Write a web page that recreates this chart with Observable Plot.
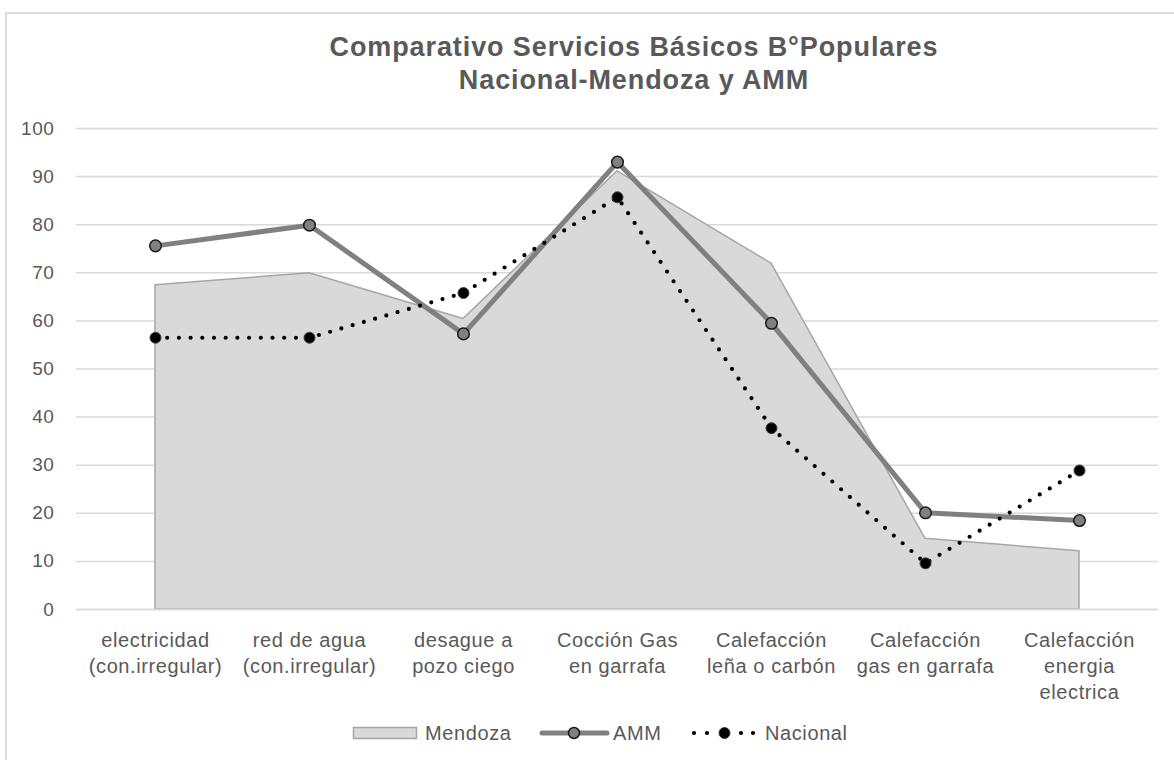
<!DOCTYPE html>
<html>
<head>
<meta charset="utf-8">
<script src="https://cdn.jsdelivr.net/npm/d3@7"></script>
<script src="https://cdn.jsdelivr.net/npm/@observablehq/plot@0.6"></script>
<style>
  html, body { margin: 0; padding: 0; background: #fff; }
  #wrap { position: relative; width: 1174px; height: 760px; overflow: hidden; font-family: "Liberation Sans", Arial, sans-serif; }
  #frame { position: absolute; left: 5px; top: 12px; width: 1300px; height: 900px; border: 2px solid #d9d9d9; box-sizing: border-box; }
  #title { position: relative; height: 100px; box-sizing: border-box; padding-top: 31px; padding-left: 94px; text-align: center;
           font-size: 27px; line-height: 33px; font-weight: bold; color: #595959; letter-spacing: 0.9px; }
  #chart svg { display: block; }
  #legend { position: relative; display: block; }
</style>
</head>
<body>
<div id="wrap">
  <div id="frame"></div>
  <div id="title">Comparativo Servicios Básicos B°Populares<br>Nacional-Mendoza y AMM</div>
  <div id="chart"></div>
  <svg id="legend" width="1174" height="60" font-family="Liberation Sans, Arial, sans-serif" font-size="20" fill="#595959" letter-spacing="0.6">
    <rect x="353.5" y="27.5" width="63" height="11" fill="#d9d9d9" stroke="#a6a6a6" stroke-width="1.5"></rect>
    <text x="425" y="40">Mendoza</text>
    <line x1="542" x2="607" y1="33" y2="33" stroke="#808080" stroke-width="5" stroke-linecap="round"></line>
    <circle cx="574" cy="33" r="5.5" fill="#808080" stroke="#1a1a1a" stroke-width="1.5"></circle>
    <text x="613" y="40">AMM</text>
    <line x1="694" x2="760" y1="33" y2="33" stroke="#000" stroke-width="4.2" stroke-dasharray="0 13 0 34 0 12 0 100" stroke-linecap="round"></line>
    <circle cx="724.5" cy="33" r="5.5" fill="#000" stroke="#404040" stroke-width="1"></circle>
    <text x="765" y="40">Nacional</text>
  </svg>
</div>
<script>
const categories = [
  "electricidad\n(con.irregular)",
  "red de agua\n(con.irregular)",
  "desague a\npozo ciego",
  "Cocción Gas\nen garrafa",
  "Calefacción\nleña o carbón",
  "Calefacción\ngas en garrafa",
  "Calefacción\nenergia\nelectrica"
];
const mendoza  = [67.4, 69.9, 60.4, 91.1, 71.9, 14.7, 12.1];
const amm      = [75.6, 79.9, 57.3, 93.0, 59.5, 20.1, 18.5];
const nacional = [56.5, 56.5, 65.8, 85.7, 37.7, 9.6, 28.9];
const yTicks   = [0, 10, 20, 30, 40, 50, 60, 70, 80, 90, 100];

const rows = categories.map((c, i) => ({cat: c, mendoza: mendoza[i], amm: amm[i], nacional: nacional[i]}));

const chart = Plot.plot({
  width: 1174,
  height: 600,
  marginTop: 28,
  marginBottom: 91,
  marginLeft: 76,
  marginRight: 16,
  x: {type: "point", domain: categories, padding: 0.5, label: null},
  y: {domain: [0, 100], label: null},
  style: {fontFamily: "Liberation Sans, Arial, sans-serif", fontSize: "20px", color: "#595959", background: "transparent", letterSpacing: "0.6px", overflow: "visible"},
  marks: [
    Plot.gridY(yTicks, {stroke: "#d9d9d9", strokeOpacity: 1, strokeWidth: 1.5}),
    Plot.areaY(rows, {x: "cat", y: "mendoza", fill: "#d9d9d9", stroke: "#a6a6a6", strokeWidth: 1.5}),
    Plot.ruleY([0], {stroke: "#d9d9d9", strokeWidth: 1.5}),
    Plot.line(rows, {x: "cat", y: "amm", stroke: "#808080", strokeWidth: 5, strokeLinejoin: "round"}),
    Plot.dot(rows, {x: "cat", y: "amm", r: 5.8, fill: "#808080", stroke: "#1a1a1a", strokeWidth: 1.5}),
    Plot.line(rows, {x: "cat", y: "nacional", stroke: "#000", strokeWidth: 4.2, strokeDasharray: "0 11.7", strokeLinecap: "round"}),
    Plot.dot(rows, {x: "cat", y: "nacional", r: 5.5, fill: "#000", stroke: "#404040", strokeWidth: 1}),
    Plot.axisY({ticks: yTicks, tickSize: 0, tickPadding: 22, fontSize: 19}),
    Plot.axisX({tickSize: 0, tickPadding: 19, lineHeight: 1.3, fontSize: 20})
  ]
});
document.getElementById("chart").appendChild(chart);
</script>
</body>
</html>
